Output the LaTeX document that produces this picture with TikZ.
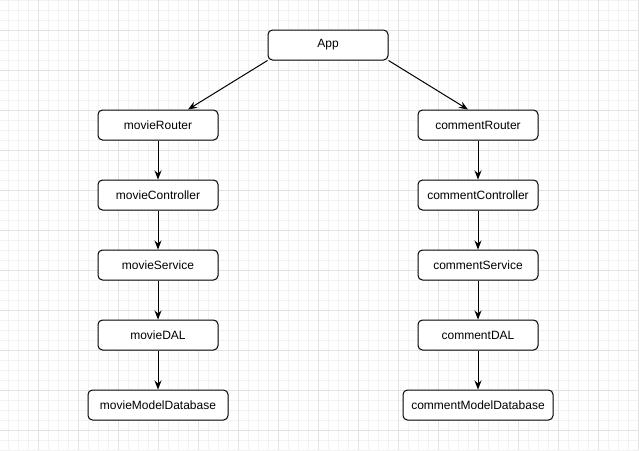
\documentclass[tikz,border=0pt]{standalone}
\usepackage{fontspec}
\setmainfont{Liberation Sans}
\usetikzlibrary{arrows.meta,calc}
\definecolor{gminor}{HTML}{F2F2F2}
\definecolor{gmajor}{HTML}{E2E2E2}
\begin{document}
\begin{tikzpicture}[x=1pt,y=-1pt,
 box/.style={draw=black,line width=1pt,rounded corners=4.5pt,fill=white,minimum width=120pt,minimum height=30pt,inner sep=0pt,font=\fontsize{12}{14}\selectfont},
 arr/.style={-{Stealth[length=9pt,width=7pt]},line width=1pt}]
\useasboundingbox (0,0) rectangle (639,450);
\fill[white] (0,0) rectangle (639,450);
\foreach \x in {8,18,...,638} \draw[gminor,line width=0.7pt] (\x,0) -- (\x,450);
\foreach \y in {0,10,...,450} \draw[gminor,line width=0.7pt] (0,\y) -- (639,\y);
\foreach \x in {38,78,...,638} \draw[gmajor,line width=0.7pt] (\x,0) -- (\x,450);
\foreach \y in {30,70,...,450} \draw[gmajor,line width=0.7pt] (0,\y) -- (639,\y);

\node[box] (app) at (328,45) {App};
\node[box] (mr) at (158,125) {movieRouter};
\node[box] (mc) at (158,195) {movieController};
\node[box] (ms) at (158,265) {movieService};
\node[box] (md) at (158,335) {movieDAL};
\node[box,minimum width=140pt] (mm) at (158,405) {movieModelDatabase};
\node[box] (cr) at (478,125) {commentRouter};
\node[box] (cc) at (478,195) {commentController};
\node[box] (cs) at (478,265) {commentService};
\node[box] (cd) at (478,335) {commentDAL};
\node[box,minimum width=150pt] (cm) at (478,405) {commentModelDatabase};

\draw[arr] (app.south west) -- ([xshift=30pt]mr.north);
\draw[arr] (app.south east) -- ([xshift=-10pt]cr.north);
\draw[arr] (mr) -- (mc);
\draw[arr] (mc) -- (ms);
\draw[arr] (ms) -- (md);
\draw[arr] (md) -- (mm);
\draw[arr] (cr) -- (cc);
\draw[arr] (cc) -- (cs);
\draw[arr] (cs) -- (cd);
\draw[arr] (cd) -- (cm);
\end{tikzpicture}
\end{document}
